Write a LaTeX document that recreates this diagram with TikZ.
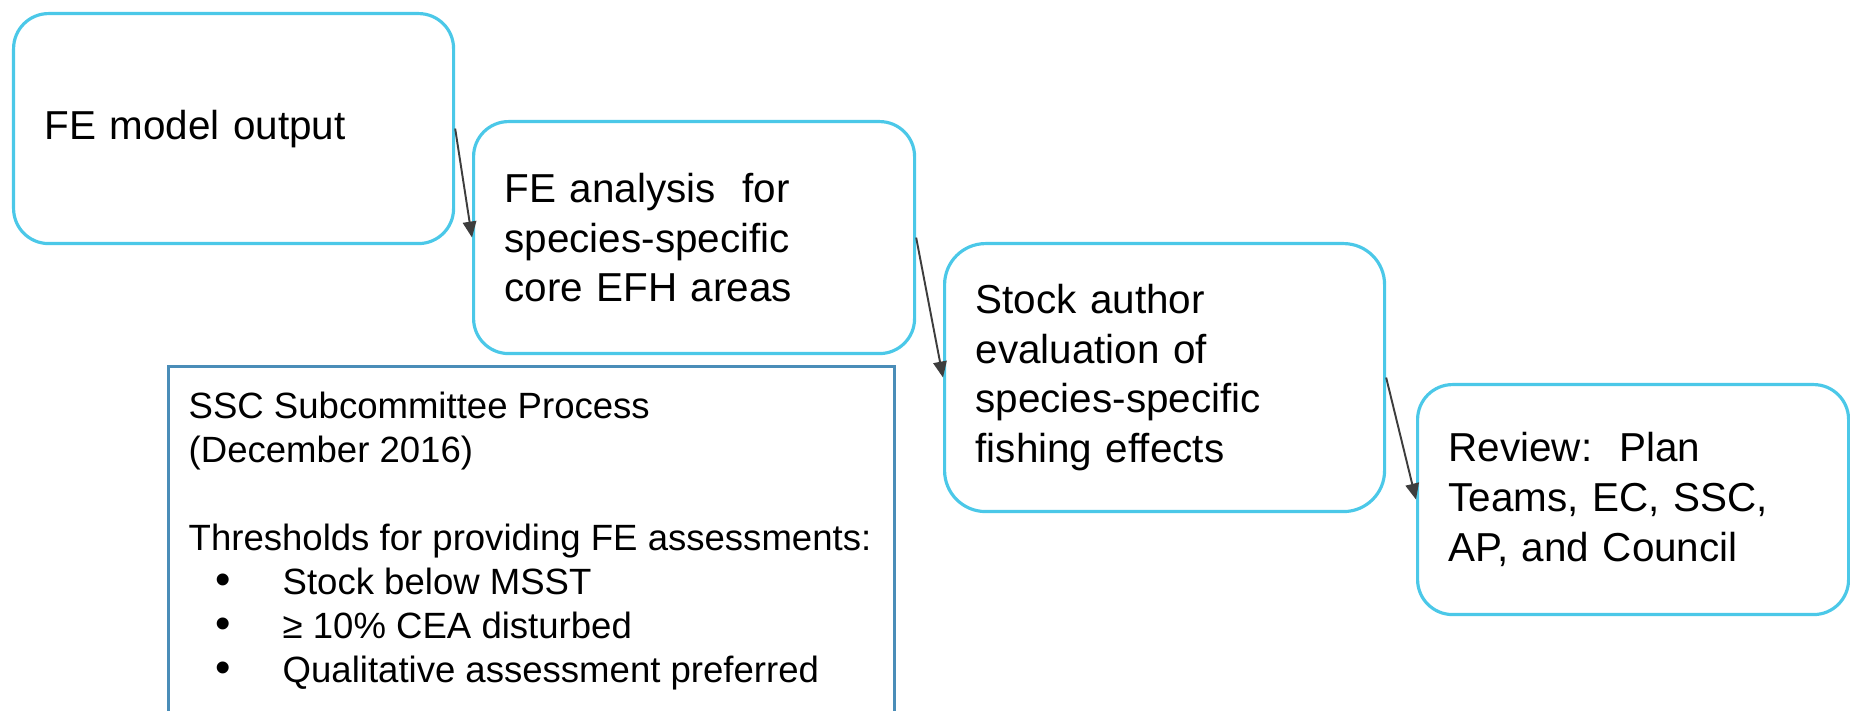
\documentclass[tikz,border=0pt]{standalone}
\usepackage{fontspec}
\setmainfont{Liberation Sans}
\usetikzlibrary{arrows.meta,calc}
\definecolor{flow}{HTML}{4BC8E8}
\definecolor{sscline}{HTML}{4A8DB8}
\definecolor{ink2}{HTML}{3D3D3D}
\tikzset{
  >={Triangle[length=1.6mm,width=1.35mm]},
  stepbox/.style={draw=flow, fill=white, rounded corners=0.35cm, line width=0.9pt,
    align=left, anchor=north west, inner xsep=0.31cm, inner ysep=0pt,
    font=\fontsize{11.5}{14.2}\selectfont},
  sscbox/.style={draw=sscline, fill=white, line width=0.95pt, anchor=north west, inner sep=0pt},
  ssctext/.style={align=left, anchor=north west, inner sep=0pt,
    font=\fontsize{10.4}{12.5}\selectfont},
  arr/.style={->, draw=ink2, line width=0.55pt},
}
\newcommand{\sscitem}[1]{\makebox[0.94cm][l]{\hspace{0.27cm}{\fontsize{12.5}{12.5}\selectfont\textbullet}}#1}

\begin{document}
\begin{tikzpicture}
  \useasboundingbox (0,0) rectangle (18.50,-7.11);
  % ---------------- process steps ----------------
  \node[stepbox, text width=3.78cm, minimum height=2.30cm] (fe) at (0.12,-0.12)
    {FE model output};
  \node[stepbox, text width=3.79cm, minimum height=2.32cm] (ana) at (4.72,-1.20)
    {FE analysis\ \ for\\ species-specific\\ core EFH areas};
  \node[stepbox, rounded corners=0.41cm, text width=3.78cm, minimum height=2.68cm] (eval) at (9.43,-2.42)
    {Stock author\\ evaluation of\\ species-specific\\ fishing effects};
  \node[stepbox, text width=3.69cm, minimum height=2.30cm] (rev) at (14.16,-3.83)
    {Review:\ \ Plan\\ Teams, EC, SSC,\\ AP, and Council};

  \draw[arr] (fe.east) -- (ana.west);
  \draw[arr] (ana.east) -- (eval.west);
  \draw[arr] (eval.east) -- (rev.west);

  % ---------------- subcommittee panel ----------------
  \node[sscbox, minimum width=7.26cm, minimum height=4cm] (ssc) at (1.67,-3.65) {};
  \node[ssctext] (ssct) at ($(ssc.north west)+(0.21,-0.265)$)
    {SSC Subcommittee Process\\ (December 2016)\\[12.5pt]
     Thresholds for providing FE assessments:\\
     \sscitem{Stock below MSST}\\
     \sscitem{≥ 10\% CEA disturbed}\\
     \sscitem{Qualitative assessment preferred}};
\end{tikzpicture}
\end{document}
